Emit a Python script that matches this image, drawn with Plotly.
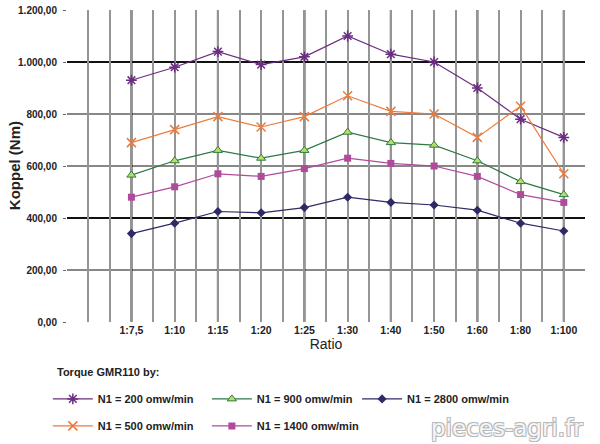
import plotly.graph_objects as go

ratios = ["1:7,5", "1:10", "1:15", "1:20", "1:25", "1:30", "1:40", "1:50", "1:60", "1:80", "1:100"]
n200 = [930, 980, 1040, 990, 1020, 1100, 1030, 1000, 900, 780, 710]
n500 = [690, 740, 790, 750, 790, 870, 810, 800, 710, 830, 570]
n900 = [565, 620, 660, 630, 660, 730, 690, 680, 620, 540, 490]
n1400 = [480, 520, 570, 560, 590, 630, 610, 600, 560, 490, 460]
n2800 = [340, 380, 425, 420, 440, 480, 460, 450, 430, 380, 350]
y_ticks = [0, 200, 400, 600, 800, 1000, 1200]

x = list(range(len(ratios)))
FONT = "Liberation Sans, Arial, sans-serif"

fig = go.Figure()

series = [
    ("N1 = 200 omw/min", n200, "#6b2d82", dict(symbol="asterisk-open", size=9, line=dict(color="#6b2d82", width=1.5)), "legend"),
    ("N1 = 500 omw/min", n500, "#ec7a3c", dict(symbol="x-thin-open", size=9, line=dict(color="#ec7a3c", width=1.5)), "legend"),
    ("N1 = 900 omw/min", n900, "#2e7a44", dict(symbol="triangle-up", size=8, color="#b7e060", line=dict(color="#2e7a44", width=1)), "legend2"),
    ("N1 = 1400 omw/min", n1400, "#b04a9c", dict(symbol="square", size=7, color="#b04a9c"), "legend2"),
    ("N1 = 2800 omw/min", n2800, "#2d2a66", dict(symbol="diamond", size=7, color="#2d2a66"), "legend3"),
]
for name, vals, col, mk, lg in series:
    fig.add_trace(go.Scatter(
        x=x, y=vals, name=name, mode="lines+markers",
        line=dict(color=col, width=1.2), marker=mk,
        legend=lg, legendgroup=name,
    ))

# grid lines: strong verticals at every other category, horizontals at inner ticks
shapes = []
for xi in x[::2]:
    shapes.append(dict(type="line", xref="x", yref="paper", x0=xi, x1=xi, y0=0, y1=1,
                       line=dict(color="#111111", width=2), layer="below"))
for yv in y_ticks[1:-1]:
    w = 2 if yv in (400, 1000) else 1.2
    shapes.append(dict(type="line", xref="paper", yref="y", x0=0, x1=1, y0=yv, y1=yv,
                       line=dict(color="#111111", width=w), layer="below"))

leg_common = dict(orientation="v", yanchor="top", xanchor="left", tracegroupgap=8,
                  font=dict(family=FONT, size=11, color="#222", weight="bold"),
                  bgcolor="rgba(0,0,0,0)", itemwidth=40, itemclick=False)

fig.update_layout(
    width=600, height=444,
    margin=dict(l=67, r=15, t=10, b=122, autoexpand=False),
    paper_bgcolor="white", plot_bgcolor="white",
    separators=",.",
    showlegend=True,
    shapes=shapes,
    font=dict(family=FONT, color="#222"),
    xaxis=dict(
        range=[-1.49, 10.49], tickmode="array", tickvals=x, ticktext=ratios,
        showgrid=True, gridcolor="#959595", gridwidth=1.5,
        minor=dict(tickmode="linear", tick0=-1, dtick=0.5, showgrid=True, gridcolor="#959595", gridwidth=1.5),
        zeroline=False, showline=False, ticks="", automargin=False,
        tickfont=dict(family=FONT, size=10.5, color="#222", weight="bold"),
        title=dict(text="Ratio", font=dict(family=FONT, size=14, color="#222"), standoff=4),
    ),
    yaxis=dict(
        range=[0, 1200], tickmode="array", tickvals=y_ticks, tickformat=",.2f",
        showgrid=False,
        zeroline=False, showline=False, ticks="outside", ticklen=3, tickcolor="#666", automargin=False,
        ticklabelstandoff=4,
        tickfont=dict(family=FONT, size=10, color="#222", weight="bold"),
    ),
    legend=dict(x=-0.037, y=-0.2, **leg_common),
    legend2=dict(x=0.27, y=-0.2, **leg_common),
    legend3=dict(x=0.56, y=-0.2, **leg_common),
    annotations=[
        dict(text="Koppel (Nm)", xref="paper", yref="paper", x=-0.102, y=0.5,
             xanchor="center", yanchor="middle", textangle=-90, showarrow=False,
             font=dict(family=FONT, size=15, color="#222", weight="bold")),
        dict(text="Torque GMR110 by:", xref="paper", yref="paper", x=-0.023, y=-0.16,
             xanchor="left", yanchor="middle", showarrow=False,
             font=dict(family=FONT, size=11, color="#222", weight="bold")),
        dict(text="pieces-agri.fr", xref="paper", yref="paper", x=1.0, y=-0.34,
             xanchor="right", yanchor="middle", showarrow=False,
             font=dict(family="DejaVu Sans", size=23, color="#f6f6f6",
                       shadow="1px 1px 0 #b8b8b8, -1px -1px 0 #b8b8b8, 1px -1px 0 #b8b8b8, -1px 1px 0 #b8b8b8")),
    ],
)

fig.write_html("out.html", config={"displayModeBar": False},
               post_script="document.body.style.margin='0';document.body.style.padding='0';")
